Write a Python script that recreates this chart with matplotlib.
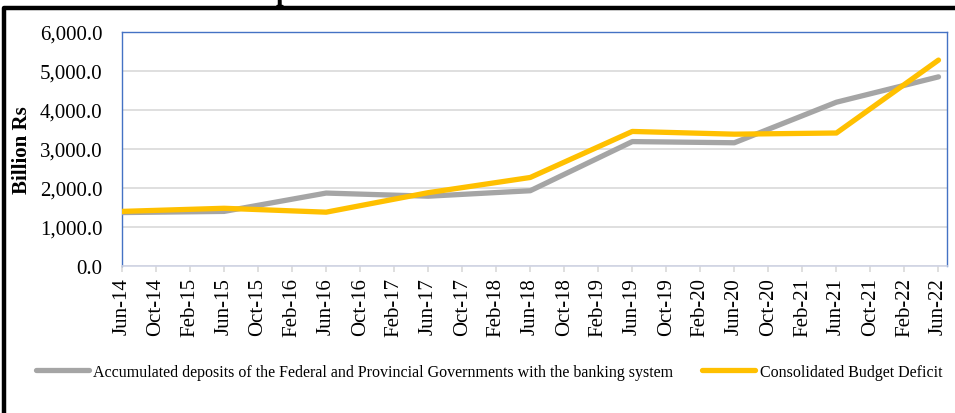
import numpy as np
import matplotlib
matplotlib.use("Agg")
import matplotlib.pyplot as plt
from matplotlib.lines import Line2D
from matplotlib.ticker import FuncFormatter

plt.rcParams['font.family'] = ['Liberation Serif', 'DejaVu Serif']

# annual observations (June of each year)
years = ['Jun-14', 'Jun-15', 'Jun-16', 'Jun-17', 'Jun-18', 'Jun-19', 'Jun-20', 'Jun-21', 'Jun-22']
deposits = [1370, 1400, 1870, 1790, 1930, 3190, 3160, 4200, 4850]
deficit = [1400, 1480, 1380, 1880, 2270, 3450, 3380, 3410, 5280]

# date axis ticks every 4 months
tick_labels = []
for y in range(14, 23):
    for m in ['Feb', 'Jun', 'Oct']:
        if (y == 14 and m == 'Feb') or (y == 22 and m == 'Oct'):
            continue
        tick_labels.append(f'{m}-{y}')

label_deposits = 'Accumulated deposits of the Federal and Provincial Governments with the banking system'
label_deficit = 'Consolidated Budget Deficit'

months = np.arange(len(years)) * 12
tick_pos = np.arange(len(tick_labels)) * 4

W, H = 955, 414
fig = plt.figure(figsize=(W / 100, H / 100), dpi=100)
ax = fig.add_axes([122 / W, 1 - 267 / H, (947 - 122) / W, (267 - 33) / H])

ax.plot(months, deposits, color='#A5A5A5', lw=3.8, solid_capstyle='round', solid_joinstyle='round', zorder=3)
ax.plot(months, deficit, color='#FFC000', lw=3.8, solid_capstyle='round', solid_joinstyle='round', zorder=4)

ax.set_xlim(0, 97)
ax.set_ylim(0, 6000)
ax.set_yticks(np.arange(0, 6001, 1000))
ax.yaxis.set_major_formatter(FuncFormatter(lambda v, p: f'{v:,.1f}'))
ax.set_xticks(tick_pos)
ax.set_xticklabels(tick_labels, rotation=90)
ax.grid(axis='y', color='#D9D9D9', lw=1.2)
ax.set_axisbelow(True)

for s in ['left', 'top', 'right']:
    ax.spines[s].set_color('#4472C4')
    ax.spines[s].set_linewidth(1.0)
ax.spines['bottom'].set_color('#D0D4E4')
ax.spines['bottom'].set_linewidth(1.2)

ax.tick_params(axis='y', length=0, pad=14, labelsize=15)
ax.tick_params(axis='x', length=4, width=1.2, color='#D9D9D9', pad=4, labelsize=15)

fig.text(22 / W, 1 - 150 / H, 'Billion Rs', rotation=90, fontweight='bold',
         fontsize=15, ha='center', va='center')

# partially visible title above the chart
fig.text(283 / W, 1.0, 'p', fontweight='bold', fontsize=20, ha='center', va='baseline')

handles = [Line2D([], [], color='#A5A5A5', lw=3.8, solid_capstyle='round'),
           Line2D([], [], color='#FFC000', lw=3.8, solid_capstyle='round')]
fig.legend(handles, [label_deposits, label_deficit], loc='center',
           bbox_to_anchor=(489 / W, 1 - 373 / H), ncol=2, frameon=False,
           fontsize=11.5, handlelength=3.3, handletextpad=0.3, columnspacing=1.8)

# outer chart-area border (cropped on right and bottom)
fig.add_artist(Line2D([4 / W, 4 / W, 1.01], [-0.01, 1 - 9 / H, 1 - 9 / H],
                      transform=fig.transFigure, color='black', lw=3.2))

fig.savefig('out.png', dpi=100)
